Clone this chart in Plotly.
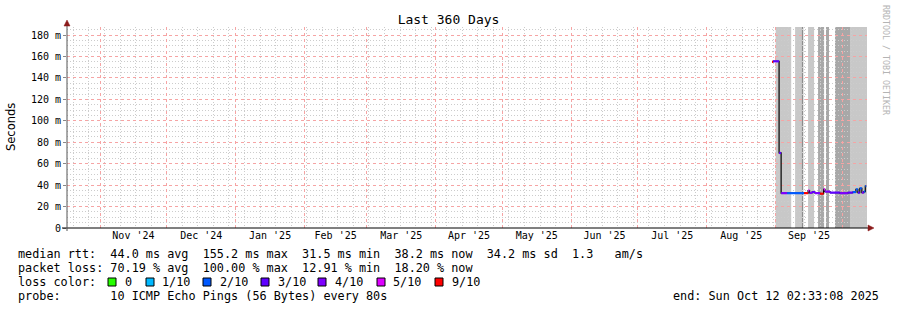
import pandas as pd
import plotly.graph_objects as go

# ---------------- data ----------------
range_start = "2024-10-17 02:33:08"
range_end = "2025-10-12 02:33:08"
data_end = "2025-10-11 18:00"

loss_labels = ["0", "1/10", "2/10", "3/10", "4/10", "5/10", "9/10"]
loss_colors = ["#26ff00", "#00b8ff", "#0059ff", "#5e00ff", "#7e00ff", "#dd00ff", "#ff0000"]

# median rtt (ms) step points; loss index applies until the next point
pt_dates = [
    "2025-08-30 09:00", "2025-08-30 20:00", "2025-09-02 13:00", "2025-09-03 11:00",
    "2025-09-06 03:00", "2025-09-13 19:00", "2025-09-15 14:00", "2025-09-16 06:00",
    "2025-09-17 09:00", "2025-09-18 17:00", "2025-09-21 00:00", "2025-09-22 14:00",
    "2025-09-23 05:00", "2025-09-25 11:00", "2025-09-29 22:00", "2025-10-03 12:00",
    "2025-10-05 18:00", "2025-10-07 03:00", "2025-10-08 00:00", "2025-10-08 21:00",
    "2025-10-09 19:00", "2025-10-10 16:00", "2025-10-11 08:00",
]
pt_values = [
    155.0, 155.5, 70.0, 32.5,
    32.5, 32.5, 35.0, 32.8,
    33.5, 32.5, 32.0, 36.0,
    34.0, 33.0, 32.5, 33.0,
    33.5, 36.0, 33.0, 37.0,
    33.0, 34.0, 39.0,
]
pt_loss = [
    6, 3, 3, 4,
    2, 6, 5, 4,
    3, 4, 6, 5,
    4, 3, 4, 3,
    2, 2, 3, 2,
    4, 2, 2,
]

# smoke / gray shading intervals
band_start = ["2025-09-01 00:00", "2025-09-09 18:00", "2025-09-12 18:00", "2025-09-15 14:00",
              "2025-09-20 02:00", "2025-09-23 16:00", "2025-09-27 17:00", "2025-10-04 11:00"]
band_end = ["2025-09-08 00:00", "2025-09-12 18:00", "2025-09-13 10:00", "2025-09-18 07:00",
            "2025-09-22 19:00", "2025-09-25 00:00", "2025-10-04 11:00", "2025-10-12 02:33:08"]
band_shade = ["#c8c8c8", "#c8c8c8", "#8c8c8c", "#c8c8c8",
              "#a8a8a8", "#a8a8a8", "#a8a8a8", "#c8c8c8"]

y_tickvals = [0, 20, 40, 60, 80, 100, 120, 140, 160, 180]
y_ticktext = ["0", "20 m", "40 m", "60 m", "80 m", "100 m", "120 m", "140 m", "160 m", "180 m"]

stats_lines = [
    "median rtt:  44.0 ms avg  155.2 ms max  31.5 ms min  38.2 ms now  34.2 ms sd  1.3   am/s",
    "packet loss: 70.19 % avg  100.00 % max  12.91 % min  18.20 % now",
]
probe_line = "probe:       10 ICMP Echo Pings (56 Bytes) every 80s"
end_line = "end: Sun Oct 12 02:33:08 2025"

# ---------------- layout helpers ----------------
W, H = 897, 310
L, R, T, B = 67, 30, 27, 82
PW, PH = W - L - R, H - T - B
MONO = "DejaVu Sans Mono"
MAJOR_GRID = "#f6a4a4"
MINOR_GRID = "#cccccc"

# minor grid positions (weekly on Sundays / every 5 ms), skipping major positions
weeks = pd.date_range("2024-10-20", "2025-10-12", freq="7D")
x_minor = [d.strftime("%Y-%m-%d") for d in weeks if d.day != 1]
y_minor = [v for v in range(5, 190, 5) if v % 20]


def xp(px):
    return (px - L) / PW


def yp(py):
    return (T + PH - py) / PH


def nb(s):
    return s.replace(" ", "\u00a0")


fig = go.Figure()

# black median step line (transitions)
fig.add_trace(go.Scatter(
    x=pt_dates + [data_end], y=pt_values + [pt_values[-1]],
    mode="lines", line=dict(color="#000000", width=1.2, shape="hv"),
    hoverinfo="skip", showlegend=False))

# coloured segments by loss
for ci, col in enumerate(loss_colors):
    xs, ys = [], []
    ends = pt_dates[1:] + [data_end]
    for i, d in enumerate(pt_dates):
        if pt_loss[i] == ci:
            xs += [d, ends[i], None]
            ys += [pt_values[i], pt_values[i], None]
    if xs:
        fig.add_trace(go.Scatter(x=xs, y=ys, mode="lines",
                                 line=dict(color=col, width=2.2),
                                 hoverinfo="skip", showlegend=False))

shapes = []
for s, e, c in zip(band_start, band_end, band_shade):
    shapes.append(dict(type="rect", xref="x", yref="paper", x0=s, x1=e, y0=0, y1=1,
                       fillcolor=c, line=dict(width=0), layer="below"))

# axis lines and arrows
shapes.append(dict(type="line", xref="paper", yref="paper", x0=xp(62), x1=xp(869),
                   y0=0, y1=0, line=dict(color="#000000", width=1)))
shapes.append(dict(type="line", xref="paper", yref="paper", x0=0, x1=0,
                   y0=yp(231), y1=yp(23), line=dict(color="#555555", width=1)))
shapes.append(dict(type="path", xref="paper", yref="paper",
                   path=f"M {xp(868)} {yp(225)} L {xp(874)} {yp(228)} L {xp(868)} {yp(231)} Z",
                   fillcolor="#8b1a1a", line=dict(color="#8b1a1a", width=0.5)))
shapes.append(dict(type="path", xref="paper", yref="paper",
                   path=f"M {xp(64)} {yp(26)} L {xp(67)} {yp(20)} L {xp(70)} {yp(26)} Z",
                   fillcolor="#8b1a1a", line=dict(color="#8b1a1a", width=0.5)))

# legend squares
sq_x = [108, 146, 203, 261, 318, 377, 435]
lab_x = [123, 160, 218, 276, 333, 391, 450]
for i, col in enumerate(loss_colors):
    shapes.append(dict(type="rect", xref="paper", yref="paper",
                       x0=xp(sq_x[i]), x1=xp(sq_x[i] + 8), y0=yp(286), y1=yp(278),
                       fillcolor=col, line=dict(color="#000000", width=1)))

annotations = []
row_y = [254, 268, 282, 296]
for line, yy in zip(stats_lines, row_y[:2]):
    annotations.append(dict(text=nb(line), xref="paper", yref="paper", x=xp(16), y=yp(yy),
                            xanchor="left", yanchor="middle", showarrow=False,
                            font=dict(family=MONO, size=11.8, color="#000000")))
annotations.append(dict(text=nb("loss color:"), xref="paper", yref="paper", x=xp(16), y=yp(282),
                        xanchor="left", yanchor="middle", showarrow=False,
                        font=dict(family=MONO, size=11.8, color="#000000")))
for i, lab in enumerate(loss_labels):
    annotations.append(dict(text=lab, xref="paper", yref="paper", x=xp(lab_x[i]), y=yp(282),
                            xanchor="left", yanchor="middle", showarrow=False,
                            font=dict(family=MONO, size=11.8, color="#000000")))
annotations.append(dict(text=nb(probe_line), xref="paper", yref="paper", x=xp(16), y=yp(296),
                        xanchor="left", yanchor="middle", showarrow=False,
                        font=dict(family=MONO, size=11.8, color="#000000")))
annotations.append(dict(text=nb(end_line), xref="paper", yref="paper", x=xp(881), y=yp(296),
                        xanchor="right", yanchor="middle", showarrow=False,
                        font=dict(family=MONO, size=11.8, color="#000000")))
annotations.append(dict(text="Seconds", xref="paper", yref="paper", x=xp(11), y=yp(127),
                        xanchor="center", yanchor="middle", showarrow=False, textangle=-90,
                        font=dict(family="DejaVu Sans", size=11.5, color="#000000")))
annotations.append(dict(text=nb("RRDTOOL / TOBI OETIKER"), xref="paper", yref="paper",
                        x=xp(886), y=yp(60), xanchor="center", yanchor="middle",
                        showarrow=False, textangle=90,
                        font=dict(family=MONO, size=8.3, color="#b4b4b4")))

fig.update_layout(
    width=W, height=H,
    margin=dict(l=L, r=R, t=T, b=B, pad=0),
    paper_bgcolor="#ffffff", plot_bgcolor="#ffffff",
    title=dict(text="Last 360 Days", x=0.5, xanchor="center", xref="container",
               y=1 - 19 / H, yanchor="middle", yref="container",
               font=dict(family=MONO, size=13, color="#000000")),
    shapes=shapes, annotations=annotations,
    showlegend=False,
    xaxis=dict(
        type="date", range=[range_start, range_end],
        tick0="2024-11-01", dtick="M1", ticklabelmode="period", tickformat="%b '%y",
        showgrid=True, gridcolor=MAJOR_GRID, griddash="dot", gridwidth=1,
        minor=dict(tickmode="array", tickvals=x_minor, showgrid=True,
                   gridcolor=MINOR_GRID, griddash="1px,2px", gridwidth=1),
        ticks="", showline=False, zeroline=False,
        tickfont=dict(family=MONO, size=10, color="#000000"),
        fixedrange=True,
    ),
    yaxis=dict(
        range=[0, PH / 1.072], tickvals=y_tickvals, ticktext=y_ticktext,
        showgrid=True, gridcolor=MAJOR_GRID, griddash="dot", gridwidth=1,
        minor=dict(tickmode="array", tickvals=y_minor, showgrid=True, gridcolor=MINOR_GRID,
                   griddash="1px,2px", gridwidth=1),
        ticks="outside", ticklen=3, tickcolor="#888888",
        showline=False, zeroline=False,
        tickfont=dict(family=MONO, size=10, color="#000000"),
        fixedrange=True,
    ),
)

fig.write_html("out.html", config={"displayModeBar": False})
